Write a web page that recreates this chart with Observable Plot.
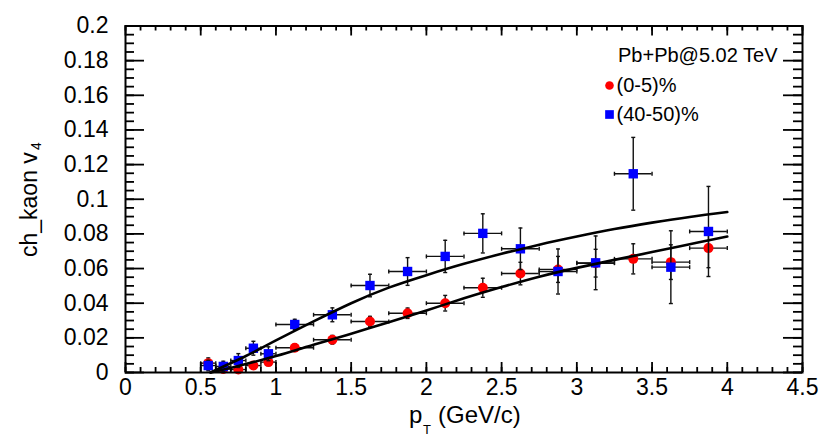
<!DOCTYPE html>
<html>
<head>
<meta charset="utf-8">
<script src="https://cdn.jsdelivr.net/npm/d3@7"></script>
<script src="https://cdn.jsdelivr.net/npm/@observablehq/plot@0.6"></script>
<style>
  html, body { margin: 0; padding: 0; background: #fff; }
  #chart svg { display: block; }
</style>
</head>
<body>
<div id="chart"></div>
<script>
// ---- data ----
const ptCenters   = [0.55, 0.65, 0.75, 0.85, 0.95, 1.125, 1.375, 1.625, 1.875, 2.125, 2.375, 2.625, 2.875, 3.125, 3.375, 3.625, 3.875];
const ptHalfWidth = [0.05, 0.05, 0.05, 0.05, 0.05, 0.125, 0.125, 0.125, 0.125, 0.125, 0.125, 0.125, 0.125, 0.125, 0.125, 0.125, 0.125];

const v4Central    = [0.0054, 0.0020, 0.0017, 0.0040, 0.0060, 0.0143, 0.0189, 0.0294, 0.0342, 0.0400, 0.0489, 0.0571, 0.0595, 0.0631, 0.0656, 0.0637, 0.0718];
const v4CentralErr = [0.0030, 0.0020, 0.0020, 0.0020, 0.0020, 0.0020, 0.0025, 0.0030, 0.0030, 0.0045, 0.0055, 0.0065, 0.0075, 0.0080, 0.0087, 0.0100, 0.0113];

const v4Periph    = [0.0040, 0.0035, 0.0069, 0.0140, 0.0108, 0.0277, 0.0333, 0.0502, 0.0583, 0.0670, 0.0803, 0.0714, 0.0583, 0.0633, 0.1147, 0.0608, 0.0814];
const v4PeriphErr = [0.0030, 0.0030, 0.0040, 0.0040, 0.0040, 0.0030, 0.0040, 0.0065, 0.0080, 0.0093, 0.0113, 0.0120, 0.0130, 0.0155, 0.0210, 0.0210, 0.0260];

// fit curves
const fitCentralX = [0.565, 0.75, 1.0, 1.25, 1.5, 1.75, 2.0, 2.25, 2.5, 2.75, 3.0, 3.25, 3.5, 3.75, 4.0];
const fitCentralY = [0, 0.0038, 0.0095, 0.0160, 0.0224, 0.0290, 0.0358, 0.0428, 0.0493, 0.0553, 0.0604, 0.0650, 0.0695, 0.0740, 0.0785];
const fitPeriphX  = [0.565, 0.8, 1.0, 1.25, 1.5, 1.75, 2.0, 2.25, 2.5, 2.75, 3.0, 3.25, 3.5, 3.75, 4.0];
const fitPeriphY  = [0, 0.0095, 0.0185, 0.0295, 0.0400, 0.0490, 0.0562, 0.0627, 0.0685, 0.0738, 0.0785, 0.0828, 0.0865, 0.0898, 0.0926];

// axes
const xMajorTicks = [0, 0.5, 1, 1.5, 2, 2.5, 3, 3.5, 4, 4.5];
const xTickLabels = ["0", "0.5", "1", "1.5", "2", "2.5", "3", "3.5", "4", "4.5"];
const yMajorTicks = [0, 0.02, 0.04, 0.06, 0.08, 0.1, 0.12, 0.14, 0.16, 0.18, 0.2];
const yTickLabels = ["0", "0.02", "0.04", "0.06", "0.08", "0.1", "0.12", "0.14", "0.16", "0.18", "0.2"];
const xMinorStep = 0.1;
const yMinorStep = 0.005;

const legendTitle = "Pb+Pb@5.02 TeV";
const seriesNames = ["(0-5)%", "(40-50)%"];
const seriesColors = ["#ff0000", "#0000ff"];

// ---- build tables ----
const rowsCentral = ptCenters.map((x, i) => ({x, w: ptHalfWidth[i], y: v4Central[i], e: v4CentralErr[i]}));
const rowsPeriph  = ptCenters.map((x, i) => ({x, w: ptHalfWidth[i], y: v4Periph[i], e: v4PeriphErr[i]}));
const fitCentral = fitCentralX.map((x, i) => ({x, y: fitCentralY[i]}));
const fitPeriph  = fitPeriphX.map((x, i) => ({x, y: fitPeriphY[i]}));

const xMinorTicks = d3.range(0, 4.5 + 1e-9, xMinorStep).map(v => +v.toFixed(3));
const yMinorTicks = d3.range(0, 0.2 + 1e-9, yMinorStep).map(v => +v.toFixed(4));

const W = 830, H = 438;
const mL = 125, mR = 28, mT = 25.5, mB = 66;
const frameW = W - mL - mR, frameH = H - mT - mB;
const FONT = "'Liberation Sans', Arial, Helvetica, sans-serif";
const errColor = "#111";
const errW = 1.4;

const hCap = {draw(ctx, size) { const r = Math.sqrt(size / Math.PI); ctx.moveTo(-r, 0); ctx.lineTo(r, 0); }};
const vCap = {draw(ctx, size) { const r = Math.sqrt(size / Math.PI); ctx.moveTo(0, -r); ctx.lineTo(0, r); }};

function errorMarks(rows) {
  const capsV = rows.flatMap(d => [{x: d.x, y: d.y - d.e}, {x: d.x, y: d.y + d.e}]);
  const capsH = rows.flatMap(d => [{x: d.x - d.w, y: d.y}, {x: d.x + d.w, y: d.y}]);
  return [
    Plot.ruleX(rows, {x: "x", y1: d => d.y - d.e, y2: d => d.y + d.e, stroke: errColor, strokeWidth: errW}),
    Plot.ruleY(rows, {y: "y", x1: d => d.x - d.w, x2: d => d.x + d.w, stroke: errColor, strokeWidth: errW}),
    Plot.dot(capsV, {x: "x", y: "y", symbol: hCap, r: 2, fill: "none", stroke: errColor, strokeWidth: errW}),
    Plot.dot(capsH, {x: "x", y: "y", symbol: vCap, r: 2, fill: "none", stroke: errColor, strokeWidth: errW})
  ];
}

const tickW = 1.8;
const chart = Plot.plot({
  width: W,
  height: H,
  marginLeft: mL, marginRight: mR, marginTop: mT, marginBottom: mB,
  style: {fontFamily: FONT, background: "white", color: "black"},
  x: {domain: [0, 4.5], label: null},
  y: {domain: [0, 0.2], label: null},
  marks: [
    // red series
    ...errorMarks(rowsCentral),
    Plot.dot(rowsCentral, {x: "x", y: "y", r: 5, fill: seriesColors[0], stroke: "none"}),
    // blue series
    ...errorMarks(rowsPeriph),
    Plot.dot(rowsPeriph, {x: "x", y: "y", r: 5.3, symbol: "square", fill: seriesColors[1], stroke: "none"}),
    // fit curves
    Plot.line(fitCentral, {x: "x", y: "y", curve: "natural", stroke: "black", strokeWidth: 2.6}),
    Plot.line(fitPeriph,  {x: "x", y: "y", curve: "natural", stroke: "black", strokeWidth: 2.6}),
    // frame
    Plot.frame({stroke: "black", strokeWidth: 2}),
    // inward ticks: bottom / top
    Plot.tickX(xMajorTicks, {x: d => d, insetTop: frameH - 10, stroke: "black", strokeWidth: tickW}),
    Plot.tickX(xMinorTicks, {x: d => d, insetTop: frameH - 5, stroke: "black", strokeWidth: tickW}),
    Plot.tickX(xMajorTicks, {x: d => d, insetBottom: frameH - 10, stroke: "black", strokeWidth: tickW}),
    Plot.tickX(xMinorTicks, {x: d => d, insetBottom: frameH - 5, stroke: "black", strokeWidth: tickW}),
    // inward ticks: left / right
    Plot.tickY(yMajorTicks, {y: d => d, insetRight: frameW - 19, stroke: "black", strokeWidth: tickW}),
    Plot.tickY(yMinorTicks, {y: d => d, insetRight: frameW - 9, stroke: "black", strokeWidth: tickW}),
    Plot.tickY(yMajorTicks, {y: d => d, insetLeft: frameW - 19, stroke: "black", strokeWidth: tickW}),
    Plot.tickY(yMinorTicks, {y: d => d, insetLeft: frameW - 9, stroke: "black", strokeWidth: tickW}),
    // tick labels
    Plot.axisX(xMajorTicks, {tickSize: 0, tickPadding: 6, fontSize: 23, label: null,
      tickFormat: d => xTickLabels[xMajorTicks.indexOf(d)]}),
    Plot.axisY(yMajorTicks, {tickSize: 0, tickPadding: 17, fontSize: 23, label: null,
      tickFormat: d => yTickLabels[yMajorTicks.indexOf(d)]}),
    // legend (inside the frame)
    Plot.text([legendTitle], {text: d => d, frameAnchor: "top-right", textAnchor: "end", lineAnchor: "bottom",
      dx: -(W - mR - 777), dy: 61 - mT, fontSize: 20, fill: "black"}),
    Plot.dot([seriesNames[0]], {frameAnchor: "top-left", dx: 609 - mL, dy: 85 - mT, r: 4.3, fill: seriesColors[0]}),
    Plot.dot([seriesNames[1]], {frameAnchor: "top-left", dx: 609 - mL, dy: 114 - mT, r: 4.9, symbol: "square", fill: seriesColors[1]}),
    Plot.text([seriesNames[0]], {text: d => d, frameAnchor: "top-left", textAnchor: "start", lineAnchor: "bottom",
      dx: 616 - mL, dy: 91 - mT, fontSize: 20, fill: "black"}),
    Plot.text([seriesNames[1]], {text: d => d, frameAnchor: "top-left", textAnchor: "start", lineAnchor: "bottom",
      dx: 616 - mL, dy: 120 - mT, fontSize: 20, fill: "black"})
  ]
});

document.getElementById("chart").appendChild(chart);

// axis titles with subscripts
const svg = d3.select(chart);
const xt = svg.append("text").attr("font-family", FONT).attr("font-size", 24).attr("fill", "black")
  .attr("text-anchor", "start");
xt.append("tspan").attr("x", 409).attr("y", 423).text("p");
xt.append("tspan").attr("x", 423).attr("y", 434).attr("font-size", 13).text("T");
xt.append("tspan").attr("x", 438).attr("y", 423).text("(GeV/c)");

const yt = svg.append("text").attr("font-family", FONT).attr("font-size", 23).attr("fill", "black")
  .attr("text-anchor", "start")
  .attr("transform", "translate(36.7,257) rotate(-90)");
yt.append("tspan").attr("x", 0).attr("y", 0).text("ch_kaon v");
yt.append("tspan").attr("x", 107).attr("y", 4).attr("font-size", 14).text("4");
</script>
</body>
</html>
